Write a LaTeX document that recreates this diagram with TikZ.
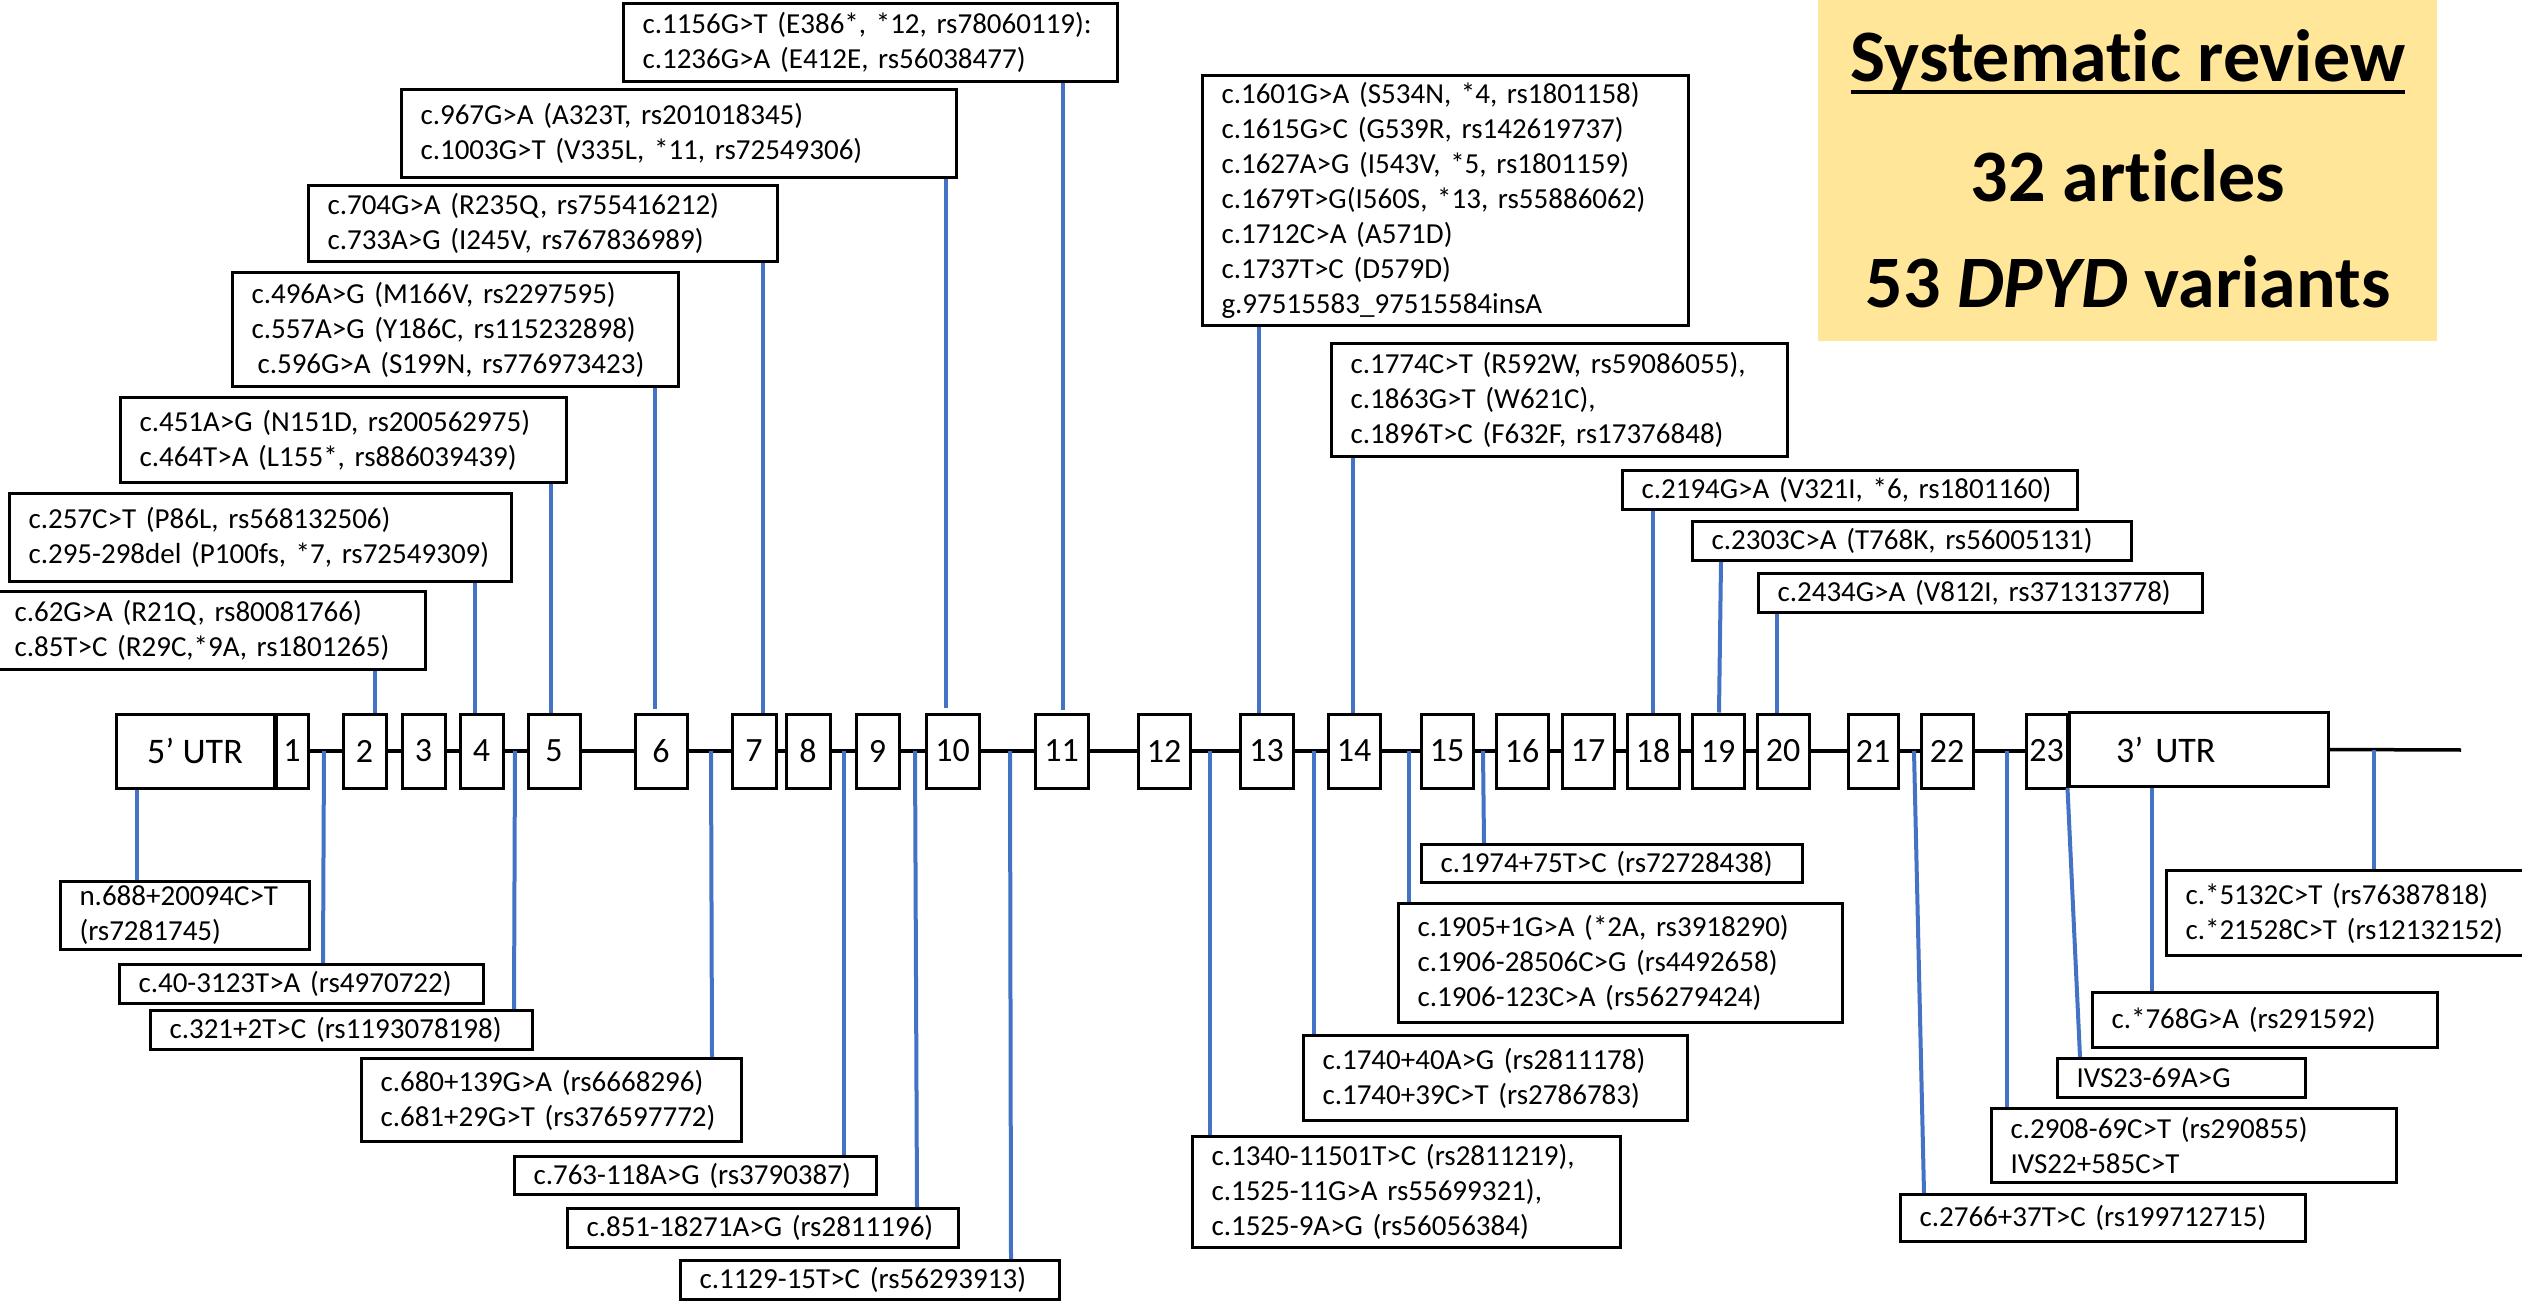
\documentclass[tikz,border=0pt]{standalone}
\usepackage{fontspec}
\setmainfont{Carlito}[Ligatures=NoCommon]
\usetikzlibrary{calc}
\definecolor{lineblue}{HTML}{4472C4}
\definecolor{revyellow}{HTML}{FFE699}
\newcommand{\labfont}{\fontsize{29}{35}\selectfont}
\newcommand{\exfont}{\fontsize{34}{34}\selectfont}
\newcommand{\utrfont}{\fontsize{36}{36}\selectfont}
\newcommand{\revfont}{\fontsize{74}{74}\selectfont\bfseries}

\begin{document}
\begin{tikzpicture}[x=1pt,y=-1pt,
    exon/.style={draw,line width=3pt,fill=white,minimum height=74pt,inner sep=0pt,font=\exfont},
    varbox/.style={draw,line width=3pt,fill=white,anchor=north west,align=left,inner xsep=19pt,inner ysep=0pt,font=\labfont},
    conn/.style={draw=lineblue,line width=4pt},
    bb/.style={line width=3.5pt}]
      \useasboundingbox (0,0) rectangle (2522,1305);
      % summary box
      \node[fill=revyellow,anchor=north west,minimum width=619pt,minimum height=341pt] (review) at (1818,0) {};
      \node[font=\revfont,inner sep=0pt,anchor=base] (revtitle) at (2128,82) {Systematic review};
      \node[font=\revfont,inner sep=0pt,anchor=base] (revart) at (2128,202) {32 articles};
      \node[font=\revfont,inner sep=0pt,anchor=base] (revvar) at (2128,308) {53 \textit{DPYD} variants};
      \draw[line width=4pt] ([yshift=-10pt]revtitle.base west) -- ([yshift=-10pt]revtitle.base east);
      % gene
      \node[exon,minimum width=158pt,font=\utrfont] (utr5) at (195,751) {5’ UTR};
      \foreach \n/\cx/\w in {1/292/32,2/364.5/43,3/423.5/43,4/481.5/43,5/554/52,6/661/52,7/754/44,8/808/44,
          9/877.5/43,10/952.5/53,11/1061.5/53,12/1164/52,13/1266.5/53,14/1354/52,15/1447/52,16/1522/52,
          17/1588/52,18/1653/52,19/1718/52,20/1783/52,21/1873/50,22/1947/52,23/2046.5/41}
        \node[exon,minimum width=\w pt] (e\n) at (\cx,751) {\n};
      \node[exon,minimum width=259pt,text width=165pt,inner xsep=47pt,align=left,font=\utrfont] (utr3) at (2198.5,749.5) {3’ UTR};
      \foreach \a [count=\b from 2] in {1,...,22}
        \draw[bb] (e\a.east) -- (e\b.west);
      \coordinate (tail) at (2461,750);
      \draw[bb] (utr3.east) -- (tail);
      % variants above
      \node[varbox,text width=392pt,minimum height=78pt] (v62) at (-6,590) {c.62G>A (R21Q, rs80081766)\\c.85T>C (R29C,*9A, rs1801265)};
      \node[varbox,text width=464pt,minimum height=88pt] (v257) at (8,492) {c.257C>T (P86L, rs568132506)\\c.295-298del (P100fs, *7, rs72549309)};
      \node[varbox,text width=408pt,minimum height=85pt] (v451) at (119,396) {c.451A>G (N151D, rs200562975)\\c.464T>A (L155*, rs886039439)};
      \node[varbox,text width=408pt,minimum height=114pt] (v496) at (231,271) {c.496A>G (M166V, rs2297595)\\c.557A>G (Y186C, rs115232898)\\\hspace*{6pt}c.596G>A (S199N, rs776973423)};
      \node[varbox,text width=431pt,minimum height=76pt] (v704) at (307,184) {c.704G>A (R235Q, rs755416212)\\c.733A>G (I245V, rs767836989)};
      \node[varbox,text width=517pt,minimum height=88pt] (v967) at (400,88) {c.967G>A (A323T, rs201018345)\\c.1003G>T (V335L, *11, rs72549306)};
      \node[varbox,text width=456pt,minimum height=78pt] (v1156) at (622,2) {c.1156G>T (E386*, *12, rs78060119):\\c.1236G>A (E412E, rs56038477)};
      \node[varbox,text width=448pt,minimum height=250pt] (v1601) at (1201,74) {c.1601G>A (S534N, *4, rs1801158)\\c.1615G>C (G539R, rs142619737)\\c.1627A>G (I543V, *5, rs1801159)\\c.1679T>G(I560S, *13, rs55886062)\\c.1712C>A (A571D)\\c.1737T>C (D579D)\\g.97515583\_97515584insA};
      \node[varbox,text width=418pt,minimum height=113pt] (v1774) at (1330,342) {c.1774C>T (R592W, rs59086055),\\c.1863G>T (W621C),\\c.1896T>C (F632F, rs17376848)};
      \node[varbox,text width=417pt,minimum height=39pt] (v2194) at (1621,469) {c.2194G>A (V321I, *6, rs1801160)};
      \node[varbox,text width=401pt,minimum height=39pt] (v2303) at (1691,520) {c.2303C>A (T768K, rs56005131)};
      \node[varbox,text width=406pt,minimum height=39pt] (v2434) at (1757,572) {c.2434G>A (V812I, rs371313778)};
      % variants below
      \node[varbox,text width=211pt,minimum height=68pt] (vn688) at (59,880) {n.688+20094C>T\\(rs7281745)};
      \node[varbox,text width=326pt,minimum height=39pt] (v40) at (118,963) {c.40-3123T>A (rs4970722)};
      \node[varbox,text width=344pt,minimum height=39pt] (v321) at (149,1009) {c.321+2T>C (rs1193078198)};
      \node[varbox,text width=342pt,minimum height=83pt] (v680) at (360,1057) {c.680+139G>A (rs6668296)\\c.681+29G>T (rs376597772)};
      \node[varbox,text width=324pt,minimum height=38pt] (v763) at (513,1155) {c.763-118A>G (rs3790387)};
      \node[varbox,text width=353pt,minimum height=39pt] (v851) at (566,1207) {c.851-18271A>G (rs2811196)};
      \node[varbox,text width=341pt,minimum height=39pt] (v1129) at (679,1259) {c.1129-15T>C (rs56293913)};
      \node[varbox,text width=390pt,minimum height=111pt] (v1340) at (1191,1135) {c.1340-11501T>C (rs2811219),\\c.1525-11G>A rs55699321),\\c.1525-9A>G (rs56056384)};
      \node[varbox,text width=346pt,minimum height=85pt] (v1740) at (1302,1034) {c.1740+40A>G (rs2811178)\\c.1740+39C>T (rs2786783)};
      \node[varbox,text width=406pt,minimum height=119pt] (v1905) at (1397,902) {c.1905+1G>A (*2A, rs3918290)\\c.1906-28506C>G (rs4492658)\\c.1906-123C>A (rs56279424)};
      \node[varbox,text width=343pt,minimum height=38pt] (v1974) at (1420,843) {c.1974+75T>C (rs72728438)};
      \node[varbox,text width=367pt,minimum height=47pt] (v2766) at (1899,1193) {c.2766+37T>C (rs199712715)};
      \node[varbox,text width=367pt,minimum height=74pt] (v2908) at (1990,1107) {c.2908-69C>T (rs290855)\\IVS22+585C>T};
      \node[varbox,text width=210pt,minimum height=39pt] (vivs) at (2056,1057) {IVS23-69A>G};
      \node[varbox,text width=307pt,minimum height=55pt] (v768) at (2091,991) {c.*768G>A (rs291592)};
      \node[varbox,text width=362pt,minimum height=85pt] (v5132) at (2165,869) {c.*5132C>T (rs76387818)\\c.*21528C>T (rs12132152)};
      % connectors above
      \draw[conn] (v62.south -| 375,0) -- (e2.north -| 375,0);
      \draw[conn] (v257.south -| 475,0) -- (e4.north -| 475,0);
      \draw[conn] (v451.south -| 551,0) -- (e5.north -| 551,0);
      \draw[conn,shorten >=4pt] (v496.south -| 655,0) -- (e6.north -| 655,0);
      \draw[conn] (v704.south -| 763,0) -- (e7.north -| 763,0);
      \draw[conn,shorten >=5pt] (v967.south -| 946,0) -- (e10.north -| 946,0);
      \draw[conn,shorten >=3pt] (v1156.south -| 1063,0) -- (e11.north -| 1063,0);
      \draw[conn] (v1601.south -| 1259,0) -- (e13.north -| 1259,0);
      \draw[conn] (v1774.south -| 1353,0) -- (e14.north -| 1353,0);
      \draw[conn] (v2194.south -| 1653,0) -- (e18.north -| 1653,0);
      \draw[conn] (v2303.south -| 1721,0) -- (e19.north -| 1719,0);
      \draw[conn] (v2434.south -| 1777,0) -- (e20.north -| 1777,0);
      % connectors below
      \draw[conn] (utr5.south -| 137,0) -- (vn688.north -| 137,0);
      \draw[conn] (e1.east -| 324,0) -- (v40.north -| 323,0);
      \draw[conn] (e4.east -| 515,0) -- (v321.north -| 514,0);
      \draw[conn] (e6.east -| 711,0) -- (v680.north -| 712,0);
      \draw[conn] (e8.east -| 844,0) -- (v763.north -| 844,0);
      \draw[conn] (e9.east -| 915,0) -- (v851.north -| 917,0);
      \draw[conn] (e10.east -| 1010,0) -- (v1129.north -| 1011,0);
      \draw[conn] (e12.east -| 1210,0) -- (v1340.north -| 1210,0);
      \draw[conn] (e13.east -| 1314,0) -- (v1740.north -| 1314,0);
      \draw[conn] (e14.east -| 1409,0) -- (v1905.north -| 1409,0);
      \draw[conn] (e15.east -| 1483,0) -- (v1974.north -| 1484,0);
      \draw[conn] (e21.east -| 1914,0) -- (v2766.north -| 1924,0);
      \draw[conn] (e22.east -| 2007,0) -- (v2908.north -| 2007,0);
      \draw[conn] (utr3.south west) -- (vivs.north -| 2080,0);
      \draw[conn] (utr3.south -| 2152,0) -- (v768.north -| 2152,0);
      \draw[conn] (tail -| 2374,0) -- (v5132.north -| 2374,0);
\end{tikzpicture}
\end{document}
